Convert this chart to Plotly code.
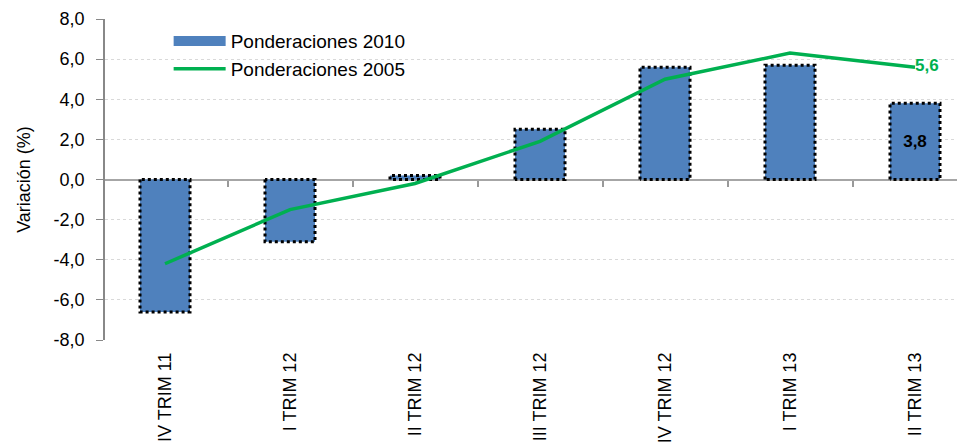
import plotly.graph_objects as go

categories = ["IV TRIM 11", "I TRIM 12", "II TRIM 12", "III TRIM 12",
              "IV TRIM 12", "I TRIM 13", "II TRIM 13"]
pond_2010 = [-6.6, -3.1, 0.2, 2.5, 5.6, 5.7, 3.8]
pond_2005 = [-4.2, -1.5, -0.2, 1.9, 5.0, 6.3, 5.6]
y_ticks = [-8, -6, -4, -2, 0, 2, 4, 6, 8]

BLUE = "#4F81BD"
GREEN = "#00B050"
FONT = "Liberation Sans, Arial, sans-serif"
bar_w = 0.4

x_idx = list(range(len(categories)))


def fmt(v):
    # comma decimals and a plain hyphen for negatives
    return f"{v:.1f}".replace(".", ",")


fig = go.Figure()

# bars (only the last one gets a label, like the original)
fig.add_trace(go.Bar(
    x=x_idx, y=pond_2010, width=bar_w, name="Ponderaciones 2010",
    marker=dict(color=BLUE, line=dict(width=0)),
    text=[""] * (len(pond_2010) - 1) + [fmt(pond_2010[-1])],
    textposition="inside", insidetextanchor="middle",
    textfont=dict(family=FONT, size=17, color="black", weight="bold"),
    showlegend=False,
))

# dotted black outline round each bar
for i, v in zip(x_idx, pond_2010):
    fig.add_trace(go.Scatter(
        x=[i - bar_w / 2, i - bar_w / 2, i + bar_w / 2, i + bar_w / 2, i - bar_w / 2],
        y=[0, v, v, 0, 0], mode="lines",
        line=dict(color="black", width=3, dash="dot"),
        hoverinfo="skip", showlegend=False,
    ))

# legend entry for the bars: a thick blue stroke
fig.add_trace(go.Scatter(
    x=[None], y=[None], mode="lines", name="Ponderaciones 2010",
    line=dict(color=BLUE, width=10),
))

fig.add_trace(go.Scatter(
    x=x_idx, y=pond_2005, mode="lines+text", name="Ponderaciones 2005",
    line=dict(color=GREEN, width=3.5),
    text=[""] * (len(pond_2005) - 1) + [fmt(pond_2005[-1])],
    textposition="middle right",
    textfont=dict(family=FONT, size=17, color=GREEN, weight="bold"),
    cliponaxis=False,
))

# invisible point so the helper axis x2 gets drawn
fig.add_trace(go.Scatter(x=[0], y=[0], xaxis="x2", mode="markers",
                         marker=dict(opacity=0), showlegend=False,
                         hoverinfo="skip"))

# the page body has an 8px margin, so the figure is 8px smaller
fig.update_layout(
    width=957, height=438,
    margin=dict(l=97, r=0, t=11, b=106),
    plot_bgcolor="white", paper_bgcolor="white",
    font=dict(family=FONT, size=15, color="black"),
    legend=dict(x=0.074, y=0.99, xanchor="left", yanchor="top",
                bgcolor="rgba(0,0,0,0)", font=dict(size=19),
                tracegroupgap=0, itemwidth=52),
    xaxis=dict(
        range=[-0.48, 6.4], tickvals=x_idx, ticktext=categories,
        tickangle=-90, showgrid=False, showline=False, zeroline=False,
        ticks="", tickfont=dict(size=18), ticklabelstandoff=8,
        automargin=False, fixedrange=True,
    ),
    # helper axis: small ticks between categories on the zero line
    xaxis2=dict(
        overlaying="x", anchor="free", position=0.5, side="bottom",
        range=[-0.48, 6.4], tickvals=[i + 0.5 for i in x_idx[:-1]],
        showticklabels=False, ticks="outside", ticklen=6, tickcolor="#999999",
        tickwidth=1.5, showgrid=False, showline=False, zeroline=False,
        automargin=False, fixedrange=True,
    ),
    yaxis=dict(
        range=[-8, 8], tickvals=y_ticks, ticktext=[fmt(t) for t in y_ticks],
        showline=True, linecolor="#888888", linewidth=1.5,
        ticks="outside", ticklen=7, tickcolor="#888888",
        showgrid=True, gridcolor="#D9D9D9", griddash="dot", gridwidth=1,
        zeroline=True, zerolinecolor="#A6A6A6", zerolinewidth=1.5,
        title=dict(text="Variación (%)", font=dict(size=18), standoff=18),
        tickfont=dict(size=18), ticklabelstandoff=8,
        automargin=False, fixedrange=True,
    ),
)

fig.write_html("out.html")
